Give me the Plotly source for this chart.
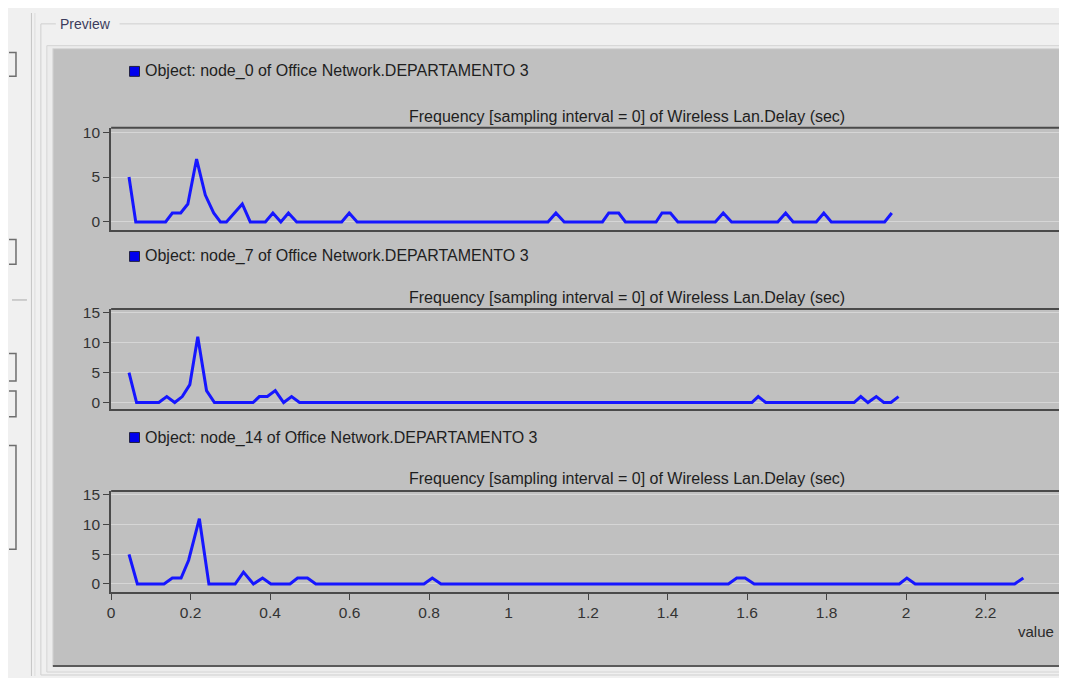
import plotly.graph_objects as go

# node_0 histogram vertices (delay in sec, count)
x_node0 = [0.045, 0.062, 0.137, 0.154, 0.175, 0.193, 0.215, 0.237, 0.258, 0.275, 0.29, 0.33, 0.35,
           0.388, 0.407, 0.427, 0.446, 0.467, 0.58, 0.599, 0.619, 1.099, 1.119, 1.14, 1.236, 1.252,
           1.277, 1.294, 1.371, 1.386, 1.407, 1.426, 1.52, 1.54, 1.561, 1.677, 1.697, 1.716, 1.774,
           1.793, 1.812, 1.946, 1.964]
y_node0 = [5, 0, 0, 1, 1, 2, 7, 3, 1, 0, 0, 2, 0,
           0, 1, 0, 1, 0, 0, 1, 0, 0, 1, 0, 0, 1,
           1, 0, 0, 1, 1, 0, 0, 1, 0, 0, 1, 0, 0,
           1, 0, 0, 1]

# node_7
x_node7 = [0.045, 0.064, 0.12, 0.14, 0.16, 0.179, 0.198, 0.218, 0.24, 0.26, 0.357, 0.373, 0.393,
           0.413, 0.434, 0.454, 0.474, 1.612, 1.628, 1.647, 1.869, 1.886, 1.904, 1.925, 1.944,
           1.962, 1.981]
y_node7 = [5, 0, 0, 1, 0, 1, 3, 11, 2, 0, 0, 1, 1,
           2, 0, 1, 0, 0, 1, 0, 0, 1, 0, 1, 0,
           0, 1]

# node_14
x_node14 = [0.045, 0.066, 0.133, 0.154, 0.176, 0.195, 0.222, 0.246, 0.312, 0.333, 0.358, 0.381,
            0.402, 0.45, 0.469, 0.494, 0.515, 0.787, 0.808, 0.83, 1.553, 1.574, 1.595, 1.618,
            1.983, 2.002, 2.023, 2.273, 2.295]
y_node14 = [5, 0, 0, 1, 1, 4, 11, 0, 0, 2, 0, 1,
            0, 0, 1, 1, 0, 0, 1, 0, 0, 1, 1, 0,
            0, 1, 0, 0, 1]

node_names = ["node_0", "node_7", "node_14"]
y_ticks = [[0, 5, 10], [0, 5, 10, 15], [0, 5, 10, 15]]
x_ticks = [0, 0.2, 0.4, 0.6, 0.8, 1, 1.2, 1.4, 1.6, 1.8, 2, 2.2, 2.4]
stat_title = "Frequency [sampling interval = 0] of Wireless Lan.Delay (sec)"

# the page body has an 8px margin, so the figure is shrunk to fit the window
OFF = 8
W, H = 1067 - 2 * OFF, 686 - 2 * OFF
FONT = "Liberation Sans, Arial, sans-serif"
LINE_BLUE = "#1616ff"
FRAME = "#4a4a4a"


def px(x):
    # window pixel -> paper fraction
    return (x - OFF) / W


def py(y):
    return 1 - (y - OFF) / H


# window-pixel layout of each panel: (top, bottom, y range, header y, title y)
panels = [
    (124, 227, [-0.86, 10.48], 67, 113),
    (307, 408, [-1.05, 15.67], 254, 295),
    (491, 593, [-1.33, 15.67], 437, 478),
]
series = [(x_node0, y_node0), (x_node7, y_node7), (x_node14, y_node14)]

X0_PX = 107.5          # window x of value 0
PX_PER_UNIT = 399.0    # window pixels per second

fig = go.Figure()
layout = dict(
    width=W, height=H, autosize=False,
    margin=dict(l=0, r=0, t=0, b=0),
    paper_bgcolor="#f0f0f0", plot_bgcolor="#f0f0f0",
    showlegend=False,
    font=dict(family=FONT, size=15, color="#222222"),
)

shapes = []
annotations = []

# window chrome
shapes += [
    dict(type="line", xref="paper", yref="paper", x0=px(27.5), x1=px(27.5), y0=0, y1=1,
         line=dict(color="#c4c4c4", width=1), layer="below"),
    dict(type="line", xref="paper", yref="paper", x0=px(31), x1=px(31), y0=0, y1=1,
         line=dict(color="#dcdcdc", width=1), layer="below"),
    dict(type="line", xref="paper", yref="paper", x0=0, x1=px(23), y0=py(298), y1=py(298),
         line=dict(color="#a8a8a8", width=1), layer="below"),
    # group box "Preview"
    dict(type="line", xref="paper", yref="paper", x0=px(37), x1=px(52), y0=py(19), y1=py(19),
         line=dict(color="#cfcfcf", width=1), layer="below"),
    dict(type="line", xref="paper", yref="paper", x0=px(116), x1=1, y0=py(19), y1=py(19),
         line=dict(color="#cfcfcf", width=1), layer="below"),
    dict(type="line", xref="paper", yref="paper", x0=px(37), x1=px(37), y0=py(677), y1=py(19),
         line=dict(color="#cfcfcf", width=1), layer="below"),
    dict(type="line", xref="paper", yref="paper", x0=px(37), x1=1, y0=py(677), y1=py(677),
         line=dict(color="#cfcfcf", width=1), layer="below"),
    # sunken frame around the graph panel
    dict(type="rect", xref="paper", yref="paper", x0=px(43), x1=1.02, y0=py(674), y1=py(41),
         fillcolor="#ececec", line=dict(color="#d4d4d4", width=1), layer="below"),
    dict(type="rect", xref="paper", yref="paper", x0=px(49), x1=1.02, y0=py(668), y1=py(44),
         fillcolor="#c0c0c0", line=dict(color="#d8d8d8", width=1), layer="below"),
    dict(type="line", xref="paper", yref="paper", x0=px(49), x1=1, y0=py(668), y1=py(668),
         line=dict(color="#5a5a5a", width=2), layer="below"),
]

# bracket-shaped bits of the cut-off left pane
for top, bottom in [(48, 72), (237, 262), (352, 380), (390, 416), (445, 550)]:
    shapes.append(dict(
        type="path", xref="paper", yref="paper",
        path=f"M {px(5)} {py(top)} L {px(12)} {py(top)} L {px(12)} {py(bottom)} L {px(5)} {py(bottom)}",
        line=dict(color="#6e6e6e", width=1.5), layer="below"))

annotations.append(dict(
    text="Preview", x=px(54), y=py(19), xref="paper", yref="paper",
    xanchor="left", yanchor="middle", showarrow=False,
    font=dict(family=FONT, size=14, color="#3c3c5c")))

for i, ((top, bottom, yr, head_y, title_y), (xs, ys), node) in enumerate(zip(panels, series, node_names)):
    k = "" if i == 0 else str(i + 1)
    last = i == 2
    fig.add_trace(go.Scatter(
        x=xs, y=ys, mode="lines", xaxis="x" + k, yaxis="y" + k,
        line=dict(color=LINE_BLUE, width=3), hoverinfo="x+y"))

    layout["xaxis" + k] = dict(
        domain=[px(X0_PX), 1], range=[0, (OFF + W - X0_PX) / PX_PER_UNIT], anchor="y" + k,
        showgrid=False, zeroline=False,
        showline=True, linecolor=FRAME, linewidth=2,
        ticks="outside" if last else "", ticklen=6, tickcolor="#444444",
        tickvals=x_ticks if last else None,
        showticklabels=last,
        tickfont=dict(family=FONT, size=15.5, color="#333333"),
    )
    layout["yaxis" + k] = dict(
        domain=[py(bottom), py(top)], range=yr, anchor="x" + k,
        tickvals=y_ticks[i], showgrid=True, gridcolor="#d6d6d6", gridwidth=1,
        zeroline=False, showline=True, linecolor=FRAME, linewidth=2,
        ticks="outside", ticklen=6, tickcolor="#444444",
        tickfont=dict(family=FONT, size=15.5, color="#333333"),
    )
    # top border of the plot frame
    shapes.append(dict(type="line", xref="x" + k + " domain", yref="y" + k + " domain",
                       x0=0, x1=1, y0=1, y1=1, line=dict(color=FRAME, width=2)))

    # object header with blue marker
    shapes.append(dict(type="rect", xref="paper", yref="paper",
                       x0=px(126), x1=px(136), y0=py(head_y + 5), y1=py(head_y - 5),
                       fillcolor="#0000ee", line=dict(color="#202040", width=1)))
    annotations.append(dict(
        text=f"Object: {node} of Office Network.DEPARTAMENTO 3",
        x=px(139), y=py(head_y), xref="paper", yref="paper",
        xanchor="left", yanchor="middle", showarrow=False,
        font=dict(family=FONT, size=16, color="#1e1e1e")))
    annotations.append(dict(
        text=stat_title, x=px(625), y=py(title_y), xref="paper", yref="paper",
        xanchor="center", yanchor="middle", showarrow=False,
        font=dict(family=FONT, size=16, color="#1e1e1e")))

annotations.append(dict(
    text="value", x=px(1056), y=py(633), xref="paper", yref="paper",
    xanchor="right", yanchor="middle", showarrow=False,
    font=dict(family=FONT, size=15, color="#2a2a2a")))

layout["shapes"] = shapes
layout["annotations"] = annotations
fig.update_layout(**layout)

fig.write_html("out.html")
